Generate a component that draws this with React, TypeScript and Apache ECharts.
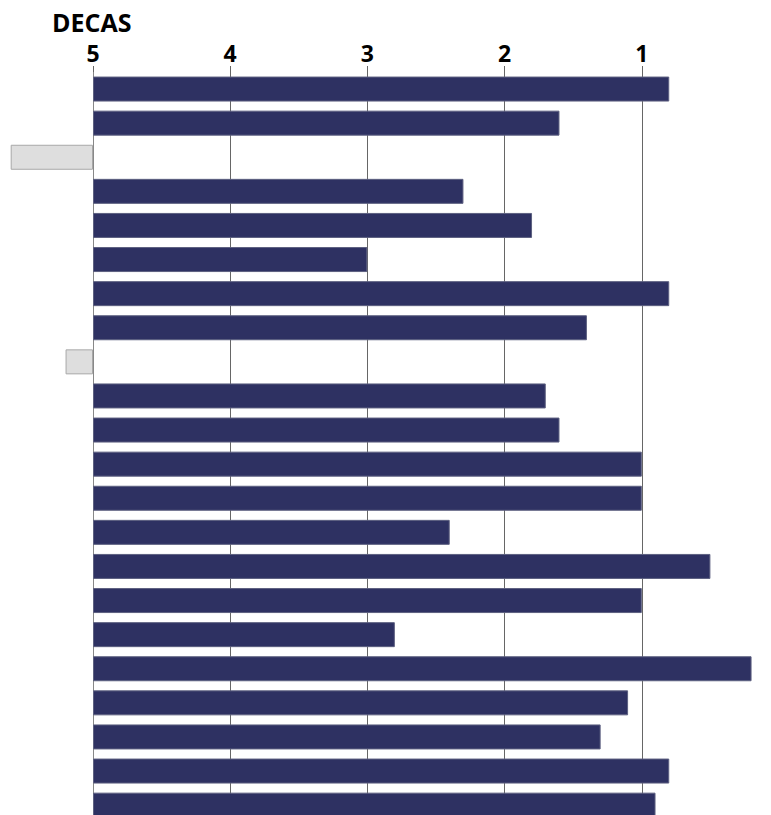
import React, { useEffect, useRef } from "react";
import * as echarts from "echarts";

// 22 rows, top to bottom
const categories = [
  "1", "2", "3", "4", "5", "6", "7", "8", "9", "10", "11",
  "12", "13", "14", "15", "16", "17", "18", "19", "20", "21", "22",
];
// value in "decas" for each row (null = no data / grey marker row)
const values: (number | null)[] = [
  0.8, 1.6, null, 2.3, 1.8, 3.0, 0.8, 1.4, null, 1.7, 1.6,
  1.0, 1.0, 2.4, 0.5, 1.0, 2.8, 0.2, 1.1, 1.3, 0.8, 0.9,
];
// grey marker bars (extend beyond 5)
const greyValues: (number | null)[] = [
  null, null, 5.6, null, null, null, null, null, 5.2, null, null,
  null, null, null, null, null, null, null, null, null, null, null,
];
const axisTop = 5;
const tickLabels = ["5", "4", "3", "2", "1"];

export default function App() {
  const ref = useRef<HTMLDivElement>(null);
  useEffect(() => {
    if (!ref.current) return;
    const chart = echarts.init(ref.current, null, { renderer: "svg" });
    const font = "'Open Sans', sans-serif";
    chart.setOption({
      animation: false,
      backgroundColor: "#ffffff",
      title: {
        text: "DECAS",
        left: 47,
        top: 6,
        textStyle: { fontFamily: font, fontSize: 25, fontWeight: "bold", color: "#000", lineHeight: 22 },
      },
      grid: { left: 93, top: 72, width: 686, height: 750.2, containLabel: false, outerBoundsMode: "none" },
      xAxis: {
        type: "value",
        position: "top",
        min: 0,
        max: 5,
        interval: 1,
        axisLine: { show: false },
        axisTick: { show: true, length: 6, lineStyle: { color: "#666", width: 1 } },
        axisLabel: {
          margin: 10,
          fontFamily: font,
          fontSize: 23,
          lineHeight: 18,
          fontWeight: "bold",
          color: "#000",
          formatter: (v: number) => {
            const i = Math.round(v);
            return i < tickLabels.length ? tickLabels[i] : "";
          },
        },
        splitLine: { show: true, lineStyle: { color: "#666", width: 1 } },
      },
      yAxis: {
        type: "category",
        data: categories,
        inverse: true,
        axisLine: { show: true, lineStyle: { color: "#888", width: 1 } },
        axisTick: { show: false },
        axisLabel: { show: false },
      },
      series: [
        {
          type: "bar",
          barWidth: 25,
          barGap: "-100%",
          clip: false,
          data: values.map((v) => (v == null ? null : axisTop - v)),
          itemStyle: { color: "#2e3162", borderColor: "#5d6080", borderWidth: 1 },
        },
        {
          type: "bar",
          barWidth: 25,
          barGap: "-100%",
          clip: false,
          data: greyValues.map((v) => (v == null ? null : axisTop - v)),
          itemStyle: { color: "#dedede", borderColor: "#a8a8a8", borderWidth: 1 },
        },
      ],
    });
    return () => chart.dispose();
  }, []);
  return (
    <div
      ref={ref}
      style={{ position: "fixed", left: 0, top: 0, width: 771, height: 815 }}
    />
  );
}
